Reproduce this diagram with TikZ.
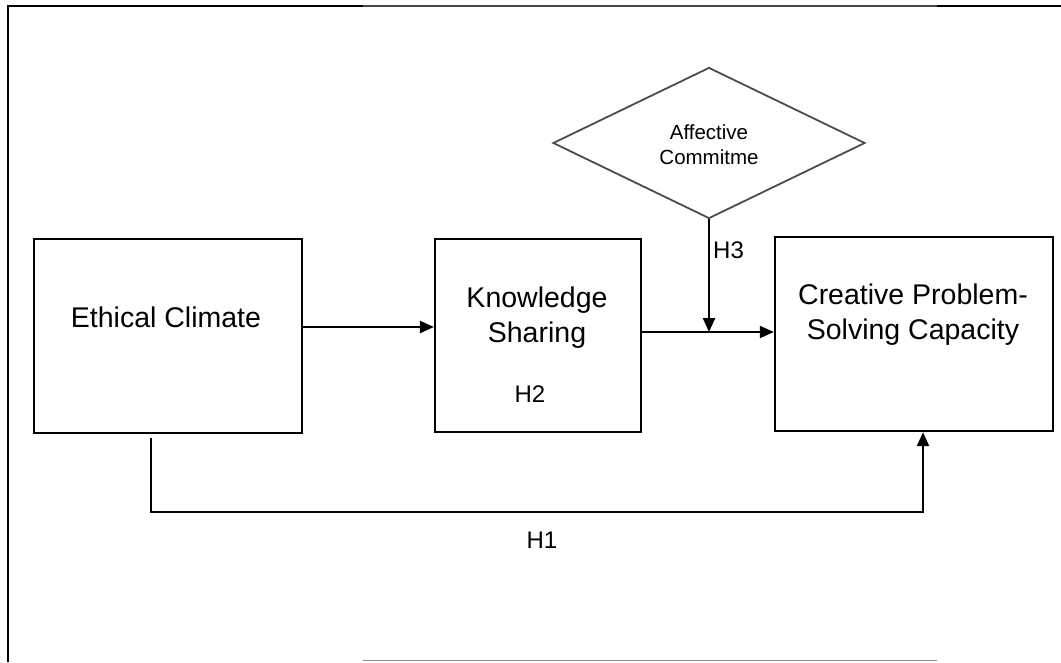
\documentclass[tikz,border=0pt]{standalone}
\usepackage{fontspec}
\setmainfont{Liberation Sans}
\usetikzlibrary{arrows.meta,shapes.geometric}
\tikzset{
  boxnode/.style={draw, line width=2.4pt, inner sep=0pt, fill=none},
  lbl/.style={font=\fontsize{28.5}{35}\selectfont, align=center, inner sep=0pt},
  hlbl/.style={font=\fontsize{24}{28}\selectfont, inner sep=0pt},
  conn/.style={line width=2.2pt},
  arr/.style={conn, -{Triangle[length=14pt,width=12pt]}},
  frameline/.style={line width=2.4pt},
}
\begin{document}
\begin{tikzpicture}[x=1pt,y=-1pt]
\useasboundingbox (0,0) rectangle (1061,662);
% outer frame
\coordinate (f1) at (8,662);
\coordinate (f2) at (8,6);
\coordinate (f3) at (363,6);
\coordinate (f4) at (937,6);
\coordinate (f5) at (1061,6);
\coordinate (b1) at (363,660.5);
\coordinate (b2) at (937,660.5);
\draw[frameline] (f1) -- (f2) -- (f3);
\draw[frameline, black!72] (f3) -- (f4);
\draw[frameline] (f4) -- (f5);
\draw[line width=1.8pt, black!45] (b1) -- (b2);
% boxes
\node[boxnode, line width=2.6pt, minimum width=268pt, minimum height=194pt] (EC) at (168,336) {};
\node[boxnode, line width=2.1pt, minimum width=206pt, minimum height=193pt] (KS) at (538,335.5) {};
\node[boxnode, minimum width=278pt, minimum height=194pt] (CPS) at (914,334) {};
\node[draw=black!70, line width=1.8pt, shape=diamond, aspect=2.07, minimum width=312pt, minimum height=151pt, inner sep=0pt] (AC) at (709,143) {};
% texts
\node[lbl] (ECt) at (166,317) {Ethical Climate};
\node[lbl] (KSt) at (537,317.5) {Knowledge\\Sharing};
\node[hlbl] (H2) at (530,394) {H2};
\node[lbl] (CPSt) at (913,315) {Creative Problem-\\Solving Capacity};
\node[font=\fontsize{20.5}{25}\selectfont, align=center, inner sep=0pt] (ACt) at (709,144.5) {Affective\\Commitme};
% connectors
\draw[arr] ([yshift=9pt]EC.east) -- ([yshift=9pt]EC.east -| KS.west);
\coordinate (m) at ([yshift=3.5pt]KS.east -| AC.south);
\draw[arr] ([yshift=3.5pt]KS.east) -- ([yshift=3.5pt]KS.east -| CPS.west);
\draw[arr] (AC.south) -- (m);
\node[hlbl, anchor=west] (H3) at (713,250) {H3};
\coordinate (h1s) at (151,438);
\coordinate (h1c) at (923,512);
\draw[arr] (h1s) |- (h1c) -- (h1c |- CPS.south);
\node[hlbl] (H1) at (542,540) {H1};
\end{tikzpicture}
\end{document}
